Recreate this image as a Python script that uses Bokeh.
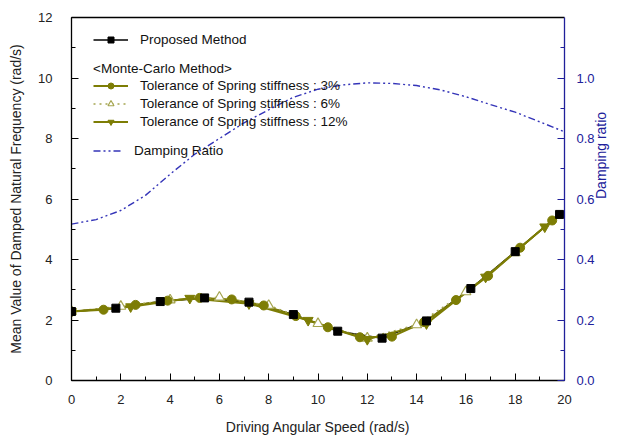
import math

from bokeh.plotting import figure
from bokeh.models import (Range1d, LinearAxis, SingleIntervalTicker, FixedTicker,
                          Legend, LegendItem, PrintfTickFormatter)
from bokeh.embed import file_html
from bokeh.resources import INLINE

# Proposed method
speed_proposed = [0, 1.8, 3.6, 5.4, 7.2, 9.0, 10.8, 12.6, 14.4, 16.2, 18.0, 19.8]
freq_proposed = [2.28, 2.39, 2.61, 2.73, 2.59, 2.18, 1.63, 1.40, 1.97, 3.04, 4.26, 5.49]

# Monte-Carlo, spring stiffness tolerance 3 %
speed_tol3 = [0, 1.3, 2.6, 3.9, 5.2, 6.5, 7.8, 9.1, 10.4, 11.7, 13.0, 14.3, 15.6, 16.9, 18.2, 19.5]
freq_tol3 = [2.28, 2.34, 2.50, 2.64, 2.73, 2.68, 2.48, 2.13, 1.76, 1.43, 1.45, 1.93, 2.66, 3.46, 4.39, 5.29]

# Monte-Carlo, spring stiffness tolerance 6 %
speed_tol6 = [0, 2, 4, 6, 8, 10, 12, 14, 16, 18]
freq_tol6 = [2.28, 2.45, 2.66, 2.75, 2.48, 1.88, 1.40, 1.84, 2.93, 4.22]

# Monte-Carlo, spring stiffness tolerance 12 %
speed_tol12 = [0, 2.4, 4.8, 7.2, 9.6, 12.0, 14.4, 16.8, 19.2]
freq_tol12 = [2.28, 2.44, 2.72, 2.54, 1.99, 1.36, 1.88, 3.42, 5.08]

# Damping ratio (right axis)
speed_damp = [0, 1, 2, 3, 4, 5, 6, 7, 8, 9, 10, 11, 12, 13, 14, 15, 16, 17, 18, 19, 20]
damping_ratio = [0.517, 0.532, 0.562, 0.612, 0.682, 0.748, 0.800, 0.852, 0.895, 0.936, 0.963,
                 0.977, 0.984, 0.982, 0.975, 0.960, 0.938, 0.912, 0.887, 0.855, 0.822]

x_ticks_interval = 2
y_ticks_interval = 2
damp_ticks_interval = 0.2

FONT = "Liberation Sans"
OLIVE = "#7d7d05"
OLIVE_LIGHT = "#a5a550"
NAVY = "#20209a"
DAMP_BLUE = "#3434b8"

p = figure(width=621, height=438, x_range=Range1d(0, 20), y_range=Range1d(0, 12),
           output_backend="svg", toolbar_location=None,
           min_border_left=71, min_border_right=57, min_border_top=17, min_border_bottom=58)
p.xgrid.visible = False
p.ygrid.visible = False
p.outline_line_color = None
p.background_fill_color = "white"
p.border_fill_color = "white"

# bottom axis
xa = p.xaxis[0]
xa.ticker = SingleIntervalTicker(interval=x_ticks_interval, num_minor_ticks=2)
xa.axis_label = "Driving Angular Speed (rad/s)"
xa.axis_label_text_font = FONT
xa.axis_label_text_font_size = "14px"
xa.axis_label_text_font_style = "normal"
xa.axis_label_text_color = "#222222"
xa.axis_label_standoff = 12
xa.major_label_text_font = FONT
xa.major_label_text_font_size = "13px"
xa.major_label_text_color = "#222222"
xa.major_label_standoff = 14
xa.axis_line_color = "black"
xa.axis_line_width = 1.3
xa.major_tick_in = 7
xa.major_tick_out = 0
xa.minor_tick_in = 4
xa.minor_tick_out = 0
xa.major_tick_line_color = "black"
xa.minor_tick_line_color = "black"

# left axis
ya = p.yaxis[0]
ya.ticker = SingleIntervalTicker(interval=y_ticks_interval, num_minor_ticks=2)
ya.axis_label = "Mean Value of Damped Natural Frequency (rad/s)"
ya.axis_label_text_font = FONT
ya.axis_label_text_font_size = "14px"
ya.axis_label_text_font_style = "normal"
ya.axis_label_text_color = "#222222"
ya.axis_label_standoff = 11
ya.major_label_text_font = FONT
ya.major_label_text_font_size = "13px"
ya.major_label_text_color = "#222222"
ya.major_label_standoff = 19
ya.axis_line_color = "black"
ya.axis_line_width = 1.3
ya.major_tick_in = 7
ya.major_tick_out = 0
ya.minor_tick_in = 4
ya.minor_tick_out = 0
ya.major_tick_line_color = "black"
ya.minor_tick_line_color = "black"

# right axis for the damping ratio
p.extra_y_ranges = {"damp": Range1d(0, 1.2)}
ra = LinearAxis(y_range_name="damp",
                ticker=SingleIntervalTicker(interval=damp_ticks_interval, num_minor_ticks=2),
                formatter=PrintfTickFormatter(format="%.1f"))
ra.axis_label = "Damping ratio"
ra.axis_label_orientation = math.pi / 2
ra.axis_label_text_font = FONT
ra.axis_label_text_font_size = "14px"
ra.axis_label_text_font_style = "normal"
ra.axis_label_text_color = NAVY
ra.axis_label_standoff = 3
ra.major_label_text_font = FONT
ra.major_label_text_font_size = "13px"
ra.major_label_text_color = NAVY
ra.major_label_standoff = 12
ra.axis_line_color = NAVY
ra.axis_line_width = 1.3
ra.major_tick_in = 7
ra.major_tick_out = 0
ra.minor_tick_in = 4
ra.minor_tick_out = 0
ra.major_tick_line_color = NAVY
ra.minor_tick_line_color = NAVY
p.add_layout(ra, "right")

# top frame line
ta = LinearAxis(ticker=FixedTicker(ticks=[]), major_tick_in=0, major_tick_out=0,
                minor_tick_in=0, minor_tick_out=0, major_label_standoff=0,
                axis_line_color="black", axis_line_width=1.3)
p.add_layout(ta, "above")

# curves
r_prop_line = p.line(speed_proposed, freq_proposed, line_color="black", line_width=1.5)
r_t3_line = p.line(speed_tol3, freq_tol3, line_color=OLIVE, line_width=2)
r_t6_line = p.line(speed_tol6, freq_tol6, line_color=OLIVE_LIGHT, line_width=1.6, line_dash="dotted")
r_t12_line = p.line(speed_tol12, freq_tol12, line_color=OLIVE, line_width=2)
r_damp = p.line(speed_damp, damping_ratio, y_range_name="damp", line_color=DAMP_BLUE,
                line_width=1.4, line_dash="7 3 2 3 2 3")

r_t6_m = p.scatter(speed_tol6, freq_tol6, marker="triangle", size=10,
                   fill_color="white", line_color=OLIVE_LIGHT, line_width=1.2)
r_t3_m = p.scatter(speed_tol3, freq_tol3, marker="circle", size=9,
                   fill_color=OLIVE, line_color=OLIVE)
r_t12_m = p.scatter(speed_tol12, freq_tol12, marker="inverted_triangle", size=10,
                    fill_color=OLIVE, line_color=OLIVE)
r_prop_m = p.scatter(speed_proposed, freq_proposed, marker="square", size=8,
                     fill_color="black", line_color="black")

legend_style = dict(padding=0, margin=0, spacing=3, border_line_color=None,
                    background_fill_alpha=0, label_height=15, glyph_height=15,
                    label_text_font=FONT, label_text_font_size="13.5px",
                    label_text_color="#111111")

leg1 = Legend(items=[LegendItem(label="Proposed Method", renderers=[r_prop_line, r_prop_m])],
              location=(22, 333.5), glyph_width=35, label_standoff=12, **legend_style)
leg2 = Legend(title="<Monte-Carlo Method>",
              items=[LegendItem(label="Tolerance of Spring stiffness : 3%", renderers=[r_t3_line, r_t3_m]),
                     LegendItem(label="Tolerance of Spring stiffness : 6%", renderers=[r_t6_line, r_t6_m]),
                     LegendItem(label="Tolerance of Spring stiffness : 12%", renderers=[r_t12_line, r_t12_m])],
              location=(22, 251.5), glyph_width=35, label_standoff=12,
              title_text_font=FONT, title_text_font_size="13.5px", title_text_font_style="normal",
              title_text_color="#111111", title_standoff=2, **legend_style)
leg3 = Legend(items=[LegendItem(label="Damping Ratio", renderers=[r_damp])],
              location=(22, 222.5), glyph_width=30, label_standoff=11, **legend_style)
for lg in (leg1, leg2, leg3):
    p.add_layout(lg)

open("out.html", "w").write(file_html(p, INLINE))
